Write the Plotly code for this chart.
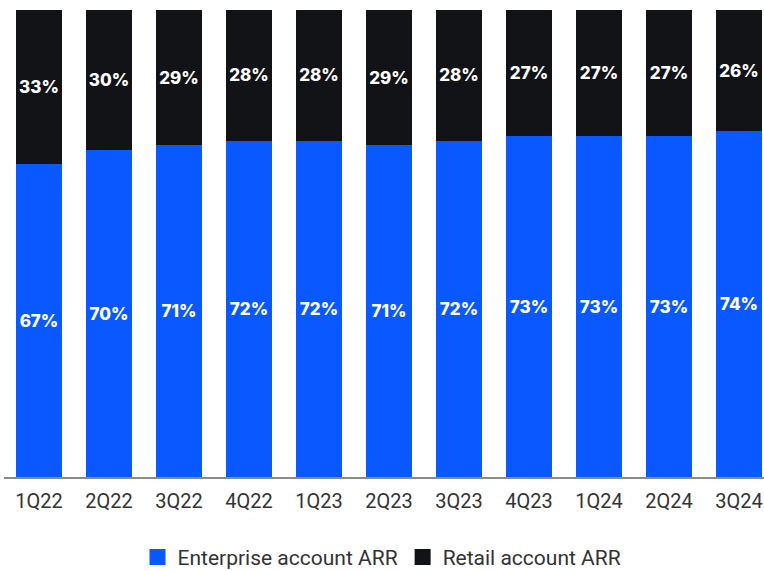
import plotly.graph_objects as go

quarters = ["1Q22", "2Q22", "3Q22", "4Q22", "1Q23", "2Q23", "3Q23", "4Q23", "1Q24", "2Q24", "3Q24"]
enterprise = [67, 70, 71, 72, 72, 71, 72, 73, 73, 73, 74]
retail = [33, 30, 29, 28, 28, 29, 28, 27, 27, 27, 26]
series_names = ["Enterprise account ARR", "Retail account ARR"]

BLUE = "#0A58FF"
BLACK = "#121317"
LABEL_FONT = dict(color="white", size=17, family="Inter", weight=800)

fig = go.Figure()
for name, vals, col in [(series_names[0], enterprise, BLUE), (series_names[1], retail, BLACK)]:
    fig.add_trace(go.Bar(
        x=quarters, y=vals, name=name, showlegend=False,
        marker=dict(color=col, line=dict(width=0)),
        text=[f"{v}%" for v in vals], textposition="inside",
        insidetextanchor="middle", textangle=0, constraintext="none",
        textfont=LABEL_FONT,
    ))
# legend entries with larger square symbols
for name, col in [(series_names[0], BLUE), (series_names[1], BLACK)]:
    fig.add_trace(go.Scatter(
        x=[None], y=[None], mode="markers", name=name,
        marker=dict(symbol="square", size=16, color=col, line=dict(width=0)),
    ))

fig.update_layout(
    barmode="stack",
    bargap=0.34,
    width=764, height=571,
    margin=dict(l=4, r=0, t=10, b=94, autoexpand=False),
    paper_bgcolor="white", plot_bgcolor="white",
    showlegend=True,
    legend=dict(orientation="h", x=0.5, xanchor="center", xref="container",
                y=0.024, yanchor="middle", yref="container",
                font=dict(size=21, color="#333333", family="Roboto"),
                itemsizing="trace", traceorder="normal", itemwidth=30),
    uniformtext=dict(mode="show", minsize=10),
)
fig.update_xaxes(
    range=[-0.5, 10.357], showline=True, linecolor="#8a8a8a", linewidth=1.5,
    showgrid=False, ticks="", ticklabelstandoff=5,
    tickfont=dict(size=20, color="#333333", family="Roboto"),
)
fig.update_yaxes(range=[0, 100], visible=False, showgrid=False)

fig.write_html("out.html")
